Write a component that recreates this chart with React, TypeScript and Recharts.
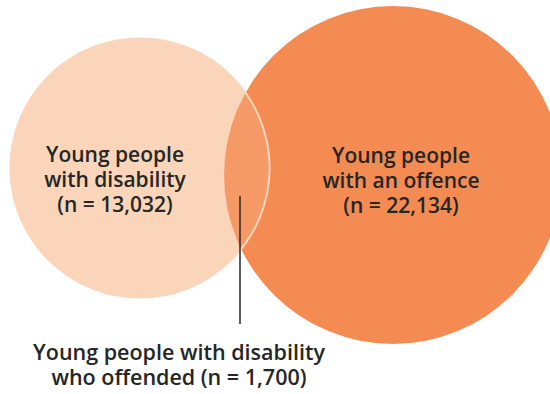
import { ScatterChart, Scatter, XAxis, YAxis, ZAxis, ReferenceDot } from 'recharts';

// sets in the diagram and their counts
const setLabels = [
    ['Young people', 'with disability'],
    ['Young people', 'with an offence'],
];
const setCounts = [13032, 22134];
const overlapLabel = ['Young people with disability', 'who offended'];
const overlapCount = 1700;

// layout of the diagram, in plot units (the plot is 550 x 394)
const centres = [
    [140, 168],
    [393, 175],
];
const labelCentres = [
    [115, 187],
    [401, 188],
];
const leader = { x: 240, top: 196, bottom: 324 };
const noteCentre = [179, 360];
const areaPerCount = 4.05;

const fills = ['#FAD5B9', '#F48B53'];
const textColour = '#262626';
const font = '"Open Sans", "DejaVu Sans", sans-serif';

const fmt = (n: number) => n.toLocaleString('en-US');

const setData = setCounts.map((n, i) => ({
    x: centres[i][0],
    y: centres[i][1],
    n,
}));

const leaderData = [
    { x: leader.x, y: leader.top },
    { x: leader.x, y: leader.bottom },
];

function makeCircle(fill: string, opacity: number, stroke?: string) {
    return (props: any) => {
        const r = props.size != null ? Math.sqrt(props.size / Math.PI) : props.width / 2;
        return (
            <circle
                cx={props.cx}
                cy={props.cy}
                r={r}
                fill={fill}
                fillOpacity={opacity}
                stroke={stroke || 'none'}
                strokeWidth={stroke ? 2 : 0}
            />
        );
    };
}

function multiLine(lines: string[], size: number, gap: number, firstOffset: number) {
    return (props: any) => {
        const vb = props.viewBox || {};
        const cx = vb.x + (vb.width || 0) / 2;
        const cy = vb.y + (vb.height || 0) / 2;
        return (
            <text
                x={cx}
                y={cy}
                textAnchor="middle"
                fill={textColour}
                fontFamily={font}
                fontWeight={600}
                fontSize={size}
            >
                {lines.map((l, i) => (
                    <tspan key={i} x={cx} y={cy + firstOffset + i * gap}>
                        {l}
                    </tspan>
                ))}
            </text>
        );
    };
}

export default function App() {
    const maxN = Math.max(...setCounts);
    return (
        <div style={{ position: 'absolute', left: 0, top: 0, background: '#fff' }}>
            <ScatterChart width={550} height={394} margin={{ top: 0, right: 0, bottom: 0, left: 0 }}>
                <XAxis type="number" dataKey="x" domain={[0, 550]} hide />
                <YAxis type="number" dataKey="y" domain={[0, 394]} reversed hide />
                <ZAxis type="number" dataKey="n" domain={[0, maxN]} range={[0, maxN * areaPerCount]} />
                <Scatter data={[setData[0]]} shape={makeCircle(fills[0], 1)} isAnimationActive={false} />
                <Scatter data={[setData[1]]} shape={makeCircle(fills[1], 1)} isAnimationActive={false} />
                <Scatter
                    data={[setData[0]]}
                    shape={makeCircle(fills[0], 0.2, '#FBD6BC')}
                    isAnimationActive={false}
                />
                {/* leader line from the overlap down to its note */}
                <Scatter
                    data={leaderData}
                    line={{ stroke: textColour, strokeWidth: 1.5 }}
                    shape={() => <g />}
                    isAnimationActive={false}
                />
                {setCounts.map((n, i) => (
                    <ReferenceDot
                        key={i}
                        x={labelCentres[i][0]}
                        y={labelCentres[i][1]}
                        r={0}
                        stroke="none"
                        fill="none"
                        label={{ content: multiLine([...setLabels[i], `(n = ${fmt(n)})`], 21, 25, -25) }}
                    />
                ))}
                <ReferenceDot
                    x={noteCentre[0]}
                    y={noteCentre[1]}
                    r={0}
                    stroke="none"
                    fill="none"
                    label={{
                        content: multiLine(
                            [overlapLabel[0], `${overlapLabel[1]} (n = ${fmt(overlapCount)})`],
                            21.5,
                            24.5,
                            0
                        ),
                    }}
                />
            </ScatterChart>
        </div>
    );
}
